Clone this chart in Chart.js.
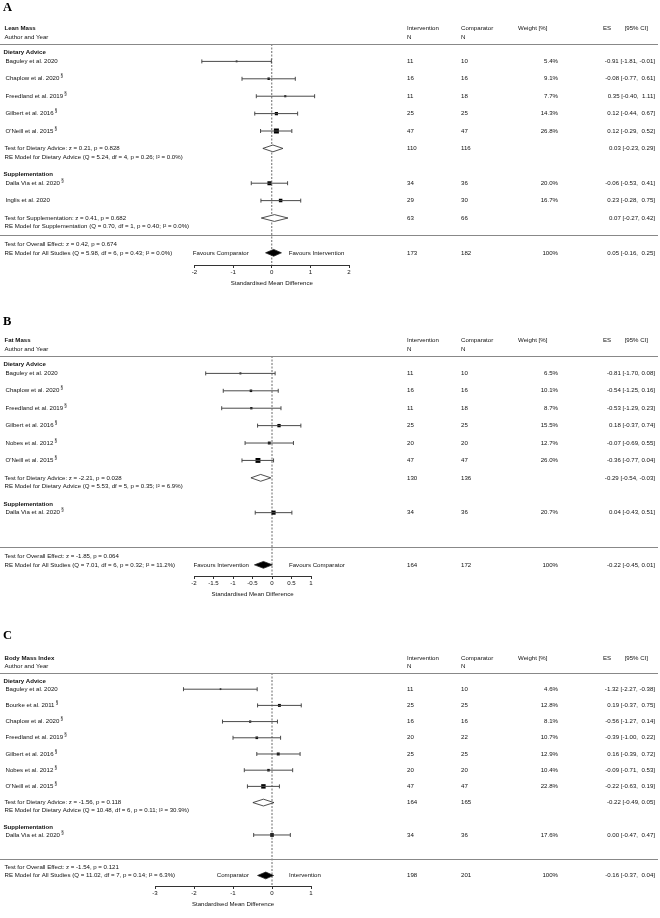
<!DOCTYPE html>
<html>
<head>
<meta charset="utf-8">
<script src="https://cdn.jsdelivr.net/npm/chart.js@4.4.1/dist/chart.umd.min.js"></script>
<style>
  html, body { margin: 0; padding: 0; background: #fff; }
  #wrap { position: relative; width: 660px; height: 918px; }
  canvas { position: absolute; left: 0; }
</style>
</head>
<body>
<div id="wrap">
  <canvas id="panelA" width="660" height="300" style="top:0px"></canvas>
  <canvas id="panelB" width="660" height="310" style="top:300px"></canvas>
  <canvas id="panelC" width="660" height="308" style="top:610px"></canvas>
</div>
<script>
// ---------- A: Lean Mass ----------
const leanStudies = ['Baguley et al. 2020', 'Chaplow et al. 2020', 'Freedland et al. 2019', 'Gilbert et al. 2016', "O'Neill et al. 2015", 'Dalla Via et al. 2020', 'Inglis et al. 2020'];
const leanMark = [false, true, true, true, true, true, false];
const leanGroupOf = [0, 0, 0, 0, 0, 1, 1];
const leanNInt = [11, 16, 11, 25, 47, 34, 29];
const leanNComp = [10, 16, 18, 25, 47, 36, 30];
const leanWeight = [5.4, 9.1, 7.7, 14.3, 26.8, 20.0, 16.7];
const leanEs = [-0.91, -0.08, 0.35, 0.12, 0.12, -0.06, 0.23];
const leanLo = [-1.81, -0.77, -0.40, -0.44, -0.29, -0.53, -0.28];
const leanHi = [-0.01, 0.61, 1.11, 0.67, 0.52, 0.41, 0.75];
const leanSubN = [[110, 116], [63, 66]];
const leanSubCI = [[0.03, -0.23, 0.29], [0.07, -0.27, 0.42]];
const leanSubStats = [[0.21, 0.828, 5.24, 4, 0.26, 0.0], [0.41, 0.682, 0.70, 1, 0.40, 0.0]]; // z, p, Q, df, pQ, I2
const leanAllN = [173, 182];
const leanAllCI = [0.05, -0.16, 0.25];
const leanAllStats = [0.42, 0.674, 5.98, 6, 0.43, 0.0];
const leanTicks = [-2, -1, 0, 1, 2];

// ---------- B: Fat Mass ----------
const fatStudies = ['Baguley et al. 2020', 'Chaplow et al. 2020', 'Freedland et al. 2019', 'Gilbert et al. 2016', 'Nobes et al. 2012', "O'Neill et al. 2015", 'Dalla Via et al. 2020'];
const fatMark = [false, true, true, true, true, true, true];
const fatGroupOf = [0, 0, 0, 0, 0, 0, 1];
const fatNInt = [11, 16, 11, 25, 20, 47, 34];
const fatNComp = [10, 16, 18, 25, 20, 47, 36];
const fatWeight = [6.5, 10.1, 8.7, 15.5, 12.7, 26.0, 20.7];
const fatEs = [-0.81, -0.54, -0.53, 0.18, -0.07, -0.36, 0.04];
const fatLo = [-1.70, -1.25, -1.29, -0.37, -0.69, -0.77, -0.43];
const fatHi = [0.08, 0.16, 0.23, 0.74, 0.55, 0.04, 0.51];
const fatSubN = [[130, 136], null];
const fatSubCI = [[-0.29, -0.54, -0.03], null];
const fatSubStats = [[-2.21, 0.028, 5.53, 5, 0.35, 6.9], null];
const fatAllN = [164, 172];
const fatAllCI = [-0.22, -0.45, 0.01];
const fatAllStats = [-1.85, 0.064, 7.01, 6, 0.32, 11.2];
const fatTicks = [-2, -1.5, -1, -0.5, 0, 0.5, 1];

// ---------- C: Body Mass Index ----------
const bmiStudies = ['Baguley et al. 2020', 'Bourke et al. 2011', 'Chaplow et al. 2020', 'Freedland et al. 2019', 'Gilbert et al. 2016', 'Nobes et al. 2012', "O'Neill et al. 2015", 'Dalla Via et al. 2020'];
const bmiMark = [false, true, true, true, true, true, true, true];
const bmiGroupOf = [0, 0, 0, 0, 0, 0, 0, 1];
const bmiNInt = [11, 25, 16, 20, 25, 20, 47, 34];
const bmiNComp = [10, 25, 16, 22, 25, 20, 47, 36];
const bmiWeight = [4.6, 12.8, 8.1, 10.7, 12.9, 10.4, 22.8, 17.6];
const bmiEs = [-1.32, 0.19, -0.56, -0.39, 0.16, -0.09, -0.22, 0.00];
const bmiLo = [-2.27, -0.37, -1.27, -1.00, -0.39, -0.71, -0.63, -0.47];
const bmiHi = [-0.38, 0.75, 0.14, 0.22, 0.72, 0.53, 0.19, 0.47];
const bmiSubN = [[164, 165], null];
const bmiSubCI = [[-0.22, -0.49, 0.05], null];
const bmiSubStats = [[-1.56, 0.118, 10.48, 6, 0.11, 30.9], null];
const bmiAllN = [198, 201];
const bmiAllCI = [-0.16, -0.37, 0.04];
const bmiAllStats = [-1.54, 0.121, 11.02, 7, 0.14, 6.3];
const bmiTicks = [-3, -2, -1, 0, 1];

const groupNames = ['Dietary Advice', 'Supplementation'];

const FONT = '"Liberation Sans", Arial, sans-serif';
const TXT = '#111';
const FS = 6.1;

function f2(v) { return v.toFixed(2); }
function ciText(ci, pad) {
  const hi = f2(ci[2]);
  return f2(ci[0]) + ' [' + f2(ci[1]) + ', ' + (pad && ci[2] >= 0 ? ' ' : '') + hi + ']';
}
function txt(ctx, s, x, y, opt) {
  opt = opt || {};
  ctx.font = (opt.bold ? 'bold ' : '') + (opt.size || FS) + 'px ' + (opt.family || FONT);
  ctx.textAlign = opt.align || 'left';
  ctx.textBaseline = 'middle';
  ctx.fillStyle = opt.color || TXT;
  ctx.fillText(s, x, y);
  return ctx.measureText(s).width;
}

function makePanel(id, d, lay) {
  // row index for every study (top-down), headers half a row above
  const rows = [], headRows = [], sumRows = [];
  let r = 0;
  groupNames.forEach((g, gi) => {
    headRows.push(r - 0.5);
    d.groupOf.forEach((gg, i) => { if (gg === gi) { rows[i] = r; r++; } });
    sumRows.push(r);
    r += 2;
  });

  const datasets = [];
  d.es.forEach((v, i) => {
    datasets.push({
      showLine: true,
      data: [{ x: d.lo[i], y: rows[i] }, { x: d.hi[i], y: rows[i] }],
      borderColor: '#4a4a4a', borderWidth: 1,
      pointStyle: 'line', pointRotation: 90, pointRadius: 2,
      pointBorderColor: '#4a4a4a', pointBorderWidth: 1
    });
  });
  datasets.push({
    data: d.es.map((v, i) => ({ x: v, y: rows[i] })),
    pointStyle: 'rect',
    pointRadius: d.weight.map(w => (1 + w * 0.15) / 1.414),
    backgroundColor: '#000', borderColor: '#000', borderWidth: 0
  });

  const diamond = (ctx, xs, ys, ci, row, fill) => {
    const y = ys.getPixelForValue(row), h = 3.4;
    ctx.beginPath();
    ctx.moveTo(xs.getPixelForValue(ci[1]), y);
    ctx.lineTo(xs.getPixelForValue(ci[0]), y - h);
    ctx.lineTo(xs.getPixelForValue(ci[2]), y);
    ctx.lineTo(xs.getPixelForValue(ci[0]), y + h);
    ctx.closePath();
    ctx.fillStyle = fill;
    ctx.fill();
    ctx.lineWidth = 0.8;
    ctx.strokeStyle = '#222';
    ctx.stroke();
  };

  const forestText = {
    id: 'forestText',
    beforeDatasetsDraw(chart) {
      const ctx = chart.ctx, xs = chart.scales.x, ys = chart.scales.y;
      const x0 = xs.getPixelForValue(0);
      ctx.save();
      ctx.setLineDash([2, 1.5]);
      ctx.strokeStyle = '#444';
      ctx.lineWidth = 0.8;
      ctx.beginPath();
      ctx.moveTo(x0, ys.getPixelForValue(-1));
      ctx.lineTo(x0, chart.chartArea.bottom);
      ctx.stroke();
      ctx.restore();
    },
    afterDraw(chart) {
      const ctx = chart.ctx, xs = chart.scales.x, ys = chart.scales.y;
      const Y = v => ys.getPixelForValue(v);
      const x0 = xs.getPixelForValue(0);
      ctx.save();
      // panel letter and headers
      txt(ctx, lay.letter, 3, lay.letterY, { bold: true, size: 12.5, family: '"Liberation Serif", "Times New Roman", serif', color: '#000' });
      txt(ctx, d.title, 4.5, Y(-1.92), { bold: true });
      txt(ctx, 'Author and Year', 4.5, Y(-1.4));
      txt(ctx, 'Intervention', 407, Y(-1.92));
      txt(ctx, 'N', 407, Y(-1.4));
      txt(ctx, 'Comparator', 461, Y(-1.92));
      txt(ctx, 'N', 461, Y(-1.4));
      txt(ctx, 'Weight [%]', 518, Y(-1.92));
      txt(ctx, 'ES', 603, Y(-1.92));
      txt(ctx, '[95% CI]', 648, Y(-1.92), { align: 'right' });

      ctx.strokeStyle = '#888';
      ctx.lineWidth = 1;
      [-1, lay.sepRow].forEach(rw => {
        const y = Math.round(Y(rw)) + 0.5;
        ctx.beginPath(); ctx.moveTo(0, y); ctx.lineTo(658, y); ctx.stroke();
      });

      // groups
      groupNames.forEach((g, gi) => {
        txt(ctx, g, 3.5, Y(headRows[gi]), { bold: true });
        const ci = d.subCI[gi];
        if (ci) {
          const st = d.subStats[gi], sr = sumRows[gi];
          diamond(ctx, xs, ys, ci, sr, '#fff');
          txt(ctx, 'Test for ' + g + ': z = ' + f2(st[0]) + ', p = ' + st[1].toFixed(3), 4.5, Y(sr));
          txt(ctx, 'RE Model for ' + g + ' (Q = ' + f2(st[2]) + ', df = ' + st[3] + ', p = ' + f2(st[4]) + '; I\u00B2 = ' + st[5].toFixed(1) + '%)', 4.5, Y(sr + 0.5));
          txt(ctx, String(d.subN[gi][0]), 407, Y(sr));
          txt(ctx, String(d.subN[gi][1]), 461, Y(sr));
          txt(ctx, ciText(ci, lay.padSub), 655, Y(sr), { align: 'right' });
        }
      });

      // studies
      d.studies.forEach((s, i) => {
        const y = Y(rows[i]);
        const w = txt(ctx, s, 5.5, y);
        if (d.mark[i]) txt(ctx, '\u00A7', 5.5 + w + 1.2, y - 2.6, { size: 4.5 });
        txt(ctx, String(d.nInt[i]), 407, y);
        txt(ctx, String(d.nComp[i]), 461, y);
        txt(ctx, d.weight[i].toFixed(1) + '%', 558, y, { align: 'right' });
        txt(ctx, ciText([d.es[i], d.lo[i], d.hi[i]], lay.padStudy), 655, y, { align: 'right' });
      });

      // overall
      const orow = lay.overallRow, st = d.allStats;
      diamond(ctx, xs, ys, d.allCI, orow, '#000');
      txt(ctx, 'Test for Overall Effect: z = ' + f2(st[0]) + ', p = ' + st[1].toFixed(3), 4.5, Y(orow - 0.5));
      txt(ctx, 'RE Model for All Studies (Q = ' + f2(st[2]) + ', df = ' + st[3] + ', p = ' + f2(st[4]) + '; I\u00B2 = ' + st[5].toFixed(1) + '%)', 4.5, Y(orow));
      txt(ctx, lay.fav[0], x0 - 23, Y(orow), { align: 'right' });
      txt(ctx, lay.fav[1], x0 + 17, Y(orow));
      txt(ctx, String(d.allN[0]), 407, Y(orow));
      txt(ctx, String(d.allN[1]), 461, Y(orow));
      txt(ctx, '100%', 558, Y(orow), { align: 'right' });
      txt(ctx, ciText(d.allCI, lay.padAll), 655, Y(orow), { align: 'right' });
      ctx.restore();
    }
  };

  const H = document.getElementById(id).height;
  return new Chart(document.getElementById(id), {
    type: 'scatter',
    data: { datasets: datasets },
    options: {
      responsive: false,
      animation: false,
      events: [],
      layout: { padding: { left: lay.left, right: 660 - lay.right, top: lay.top, bottom: H - lay.axisY - 22 } },
      plugins: { legend: { display: false }, tooltip: { enabled: false } },
      scales: {
        x: {
          type: 'linear',
          min: d.ticks[0], max: d.ticks[d.ticks.length - 1],
          afterBuildTicks: s => { s.ticks = d.ticks.map(v => ({ value: v })); },
          afterFit: s => { s.height = 22; },
          ticks: { font: { family: FONT, size: FS }, color: TXT, padding: 1, maxRotation: 0, autoSkip: false, callback: v => String(v) },
          grid: { drawOnChartArea: false, drawTicks: true, tickLength: 3, color: '#333', lineWidth: 1 },
          border: { display: true, color: '#333', width: 1 },
          title: { display: true, text: 'Standardised Mean Difference', font: { family: FONT, size: FS }, color: TXT, padding: { top: 0, bottom: 0 } }
        },
        y: { type: 'linear', display: false, reverse: true, min: -1, max: lay.axisRow }
      }
    },
    plugins: [forestText]
  });
}

makePanel('panelA', {
  title: 'Lean Mass', studies: leanStudies, mark: leanMark, groupOf: leanGroupOf,
  nInt: leanNInt, nComp: leanNComp, weight: leanWeight, es: leanEs, lo: leanLo, hi: leanHi,
  subN: leanSubN, subCI: leanSubCI, subStats: leanSubStats,
  allN: leanAllN, allCI: leanAllCI, allStats: leanAllStats, ticks: leanTicks
}, { letter: 'A', letterY: 8, top: 44, axisY: 265, axisRow: 11.7, left: 194.5, right: 349,
     sepRow: 10, overallRow: 11, fav: ['Favours Comparator', 'Favours Intervention'],
     padStudy: true, padSub: false, padAll: true });

makePanel('panelB', {
  title: 'Fat Mass', studies: fatStudies, mark: fatMark, groupOf: fatGroupOf,
  nInt: fatNInt, nComp: fatNComp, weight: fatWeight, es: fatEs, lo: fatLo, hi: fatHi,
  subN: fatSubN, subCI: fatSubCI, subStats: fatSubStats,
  allN: fatAllN, allCI: fatAllCI, allStats: fatAllStats, ticks: fatTicks
}, { letter: 'B', letterY: 22, top: 56, axisY: 276, axisRow: 11.64, left: 194, right: 311,
     sepRow: 10, overallRow: 11, fav: ['Favours Intervention', 'Favours Comparator'],
     padStudy: false, padSub: false, padAll: false });

makePanel('panelC', {
  title: 'Body Mass Index', studies: bmiStudies, mark: bmiMark, groupOf: bmiGroupOf,
  nInt: bmiNInt, nComp: bmiNComp, weight: bmiWeight, es: bmiEs, lo: bmiLo, hi: bmiHi,
  subN: bmiSubN, subCI: bmiSubCI, subStats: bmiSubStats,
  allN: bmiAllN, allCI: bmiAllCI, allStats: bmiAllStats, ticks: bmiTicks
}, { letter: 'C', letterY: 26, top: 63, axisY: 276, axisRow: 12.15, left: 155, right: 311,
     sepRow: 10.5, overallRow: 11.5, fav: ['Comparator', 'Intervention'],
     padStudy: true, padSub: false, padAll: true });
</script>
</body>
</html>
